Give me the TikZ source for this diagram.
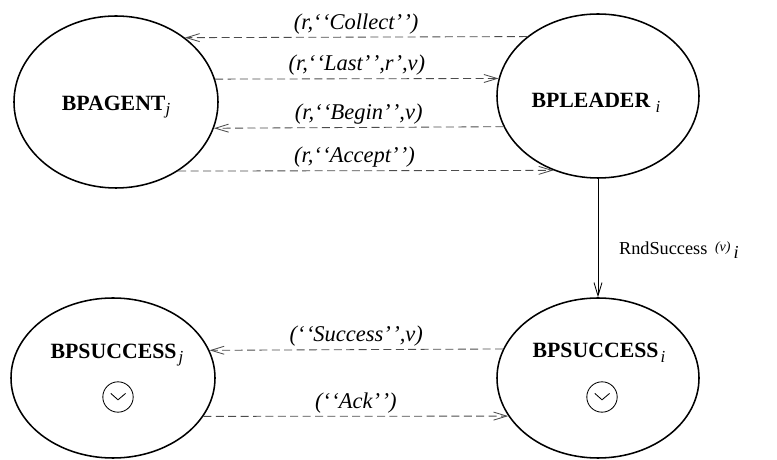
\documentclass[tikz,border=0pt]{standalone}
\usepackage{fontspec}
\setmainfont{Liberation Serif}
\usetikzlibrary{shapes.geometric,arrows.meta,positioning}

\newcommand{\idx}[1]{\raisebox{-0.45ex}{\fontsize{12}{14}\selectfont\mdseries\itshape #1}}
\newcommand{\qq}[1]{\textquoteleft\kern0.06em\textquoteleft #1\textquoteright\kern0.06em\textquoteright}

\begin{document}
\begin{tikzpicture}[
    proc/.style={draw, ellipse, line width=1.1pt, inner sep=0pt},
    msg/.style={draw=black!70, line width=0.6pt, dash pattern=on 2mm off 1.1mm,
        -{Straight Barb[length=3.3mm,width=2mm]}},
    msgtext/.style={above, inner sep=2pt, text=black, font=\fontsize{16}{19}\selectfont\itshape},
    pname/.style={font=\fontsize{15.5}{18}\selectfont\bfseries},
    okmark/.style={draw, circle, line width=0.6pt, minimum size=0.76cm, inner sep=0pt}
]

    % 1. Fix the frame of the picture
    \useasboundingbox (0,0) rectangle (19.425,-11.5);

    % 2. The four processes (ellipses)
    \node (agent) [proc, minimum width=5.1cm,  minimum height=4.3cm] at (2.9,-2.55) {};
    \node (leader) [proc, minimum width=5.05cm, minimum height=4.1cm] at (14.95,-2.4) {};
    \node (succj) [proc, minimum width=5.1cm,  minimum height=4.0cm] at (2.825,-9.45) {};
    \node (succi) [proc, minimum width=5.05cm, minimum height=4.0cm] at (14.95,-9.45) {};

    % 3. Names inside the ellipses
    \node (agentname) [pname] at (2.9,-2.675) {BPAGENT\idx{j}};
    \node (leadername) [pname] at (14.9,-2.575) {BPLEADER\hspace{0.25em}\idx{i}};
    \node (succjname) [pname] at (2.925,-8.875) {BPSUCCESS\hspace{0.1em}\idx{j}};
    \node (succiname) [pname] at (14.975,-8.825) {BPSUCCESS\hspace{0.1em}\idx{i}};

    % 4. Circled check marks in the success states
    \node (okj) [okmark] at (2.95,-9.925) {};
    \node (oki) [okmark] at (15.05,-9.925) {};
    \draw [line width=0.6pt] ([shift={(-0.18,0.09)}]okj.center) -- ([shift={(0,-0.07)}]okj.center) -- ([shift={(0.19,0.09)}]okj.center);
    \draw [line width=0.6pt] ([shift={(-0.18,0.09)}]oki.center) -- ([shift={(0,-0.07)}]oki.center) -- ([shift={(0.19,0.09)}]oki.center);

    % 5. Messages between agent and leader
    \draw [msg] (leader.140.9) -- node [msgtext] {(r,\qq{Collect})} (agent.43.2);
    \draw [msg] (agent.13.17) -- node [msgtext] {(r,\qq{Last},r\textquoteright,v)} (leader.170.24);
    \draw [msg] (leader.198.99) -- node [msgtext] {(r,\qq{Begin},v)} (agent.345.03);
    \draw [msg] (agent.312.56) -- node [msgtext, pos=0.47] {(r,\qq{Accept})} (leader.239.54);

    % 6. Leader moves to success
    \draw [line width=0.6pt, -{Straight Barb[length=3.3mm,width=2mm]}] (leader.south) --
        node [right=4mm, pos=0.6, font=\fontsize{13}{15}\selectfont]
        {RndSuccess\, \raisebox{0.3ex}{\fontsize{10}{12}\selectfont\itshape (v)}\,\raisebox{-0.5ex}{\itshape i}} (succi.north);

    % 7. Messages between the success states
    \draw [msg] (succi.163.51) -- node [msgtext] {(\qq{Success},v)} (succj.16.33);
    \draw [msg] (succj.337.06) -- node [msgtext] {(\qq{Ack})} (succi.203.15);

\end{tikzpicture}
\end{document}
